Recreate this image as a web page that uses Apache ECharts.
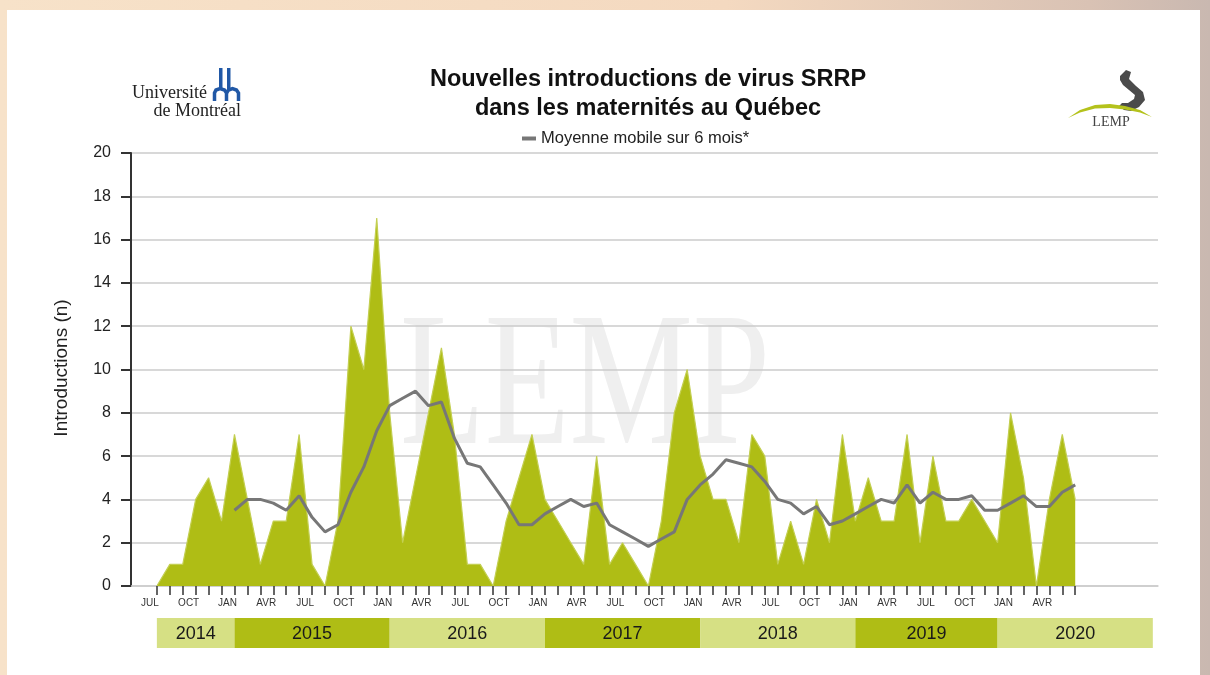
<!DOCTYPE html>
<html>
<head>
<meta charset="utf-8">
<title>Nouvelles introductions de virus SRRP</title>
<script src="https://cdn.jsdelivr.net/npm/echarts@6.0.0/dist/echarts.min.js"></script>
<style>
  html, body { margin: 0; padding: 0; }
  body {
    width: 1210px; height: 675px; overflow: hidden; position: relative;
    background: linear-gradient(90deg, #f7e2c9 0%, #f4d9c0 60%, #d9c2b4 90%, #c9b8b0 100%);
  }
  #panel { position: absolute; left: 7px; top: 10px; width: 1193px; height: 665px; background: #fff; }
  #chart { position: absolute; left: 0; top: 0; width: 1210px; height: 675px; }
</style>
</head>
<body>
<div id="panel"></div>
<div id="chart"></div>
<script>
// introductions mensuelles, de juillet 2014 a juin 2020
const introductions = [
  0, 1, 1, 4, 5, 3,                  // 2014 (jul-dec)
  7, 4, 1, 3, 3, 7, 1, 0, 3, 12, 10, 17, // 2015
  8, 2, 5, 8, 11, 7, 1, 1, 0, 3, 5, 7,   // 2016
  4, 3, 2, 1, 6, 1, 2, 1, 0, 3, 8, 10,   // 2017
  6, 4, 4, 2, 7, 6, 1, 3, 1, 4, 2, 7,    // 2018
  3, 5, 3, 3, 7, 2, 6, 3, 3, 4, 3, 2,    // 2019
  8, 5, 0, 4, 7, 4                   // 2020 (jan-jun)
];

// moyenne mobile sur 6 mois, commence en janvier 2015 (index 6)
const maStart = 6;
const movingAvg = [
  3.5, 4.0, 4.0, 3.83, 3.5, 4.17, 3.17, 2.5, 2.83, 4.33, 5.5, 7.17,
  8.33, 8.67, 9.0, 8.33, 8.5, 6.83, 5.67, 5.5, 4.67, 3.83, 2.83, 2.83,
  3.33, 3.67, 4.0, 3.67, 3.83, 2.83, 2.5, 2.17, 1.83, 2.17, 2.5, 4.0,
  4.67, 5.17, 5.83, 5.67, 5.5, 4.83, 4.0, 3.83, 3.33, 3.67, 2.83, 3.0,
  3.33, 3.67, 4.0, 3.83, 4.67, 3.83, 4.33, 4.0, 4.0, 4.17, 3.5, 3.5,
  3.83, 4.17, 3.67, 3.67, 4.33, 4.67
];

// etiquettes trimestrielles de l'axe x
const tickLabels = [
  'JUL', 'OCT', 'JAN', 'AVR', 'JUL', 'OCT', 'JAN', 'AVR', 'JUL', 'OCT', 'JAN', 'AVR',
  'JUL', 'OCT', 'JAN', 'AVR', 'JUL', 'OCT', 'JAN', 'AVR', 'JUL', 'OCT', 'JAN', 'AVR'
];

// bandeau des annees (debut / fin en mois)
const years = ['2014', '2015', '2016', '2017', '2018', '2019', '2020'];
const yearStart = [0, 6, 18, 30, 42, 54, 65];
const yearEnd = [6, 18, 30, 42, 54, 65, 77];

const GREEN = '#afbd15';
const LIGHT_GREEN = '#d6e084';
const SANS = 'Liberation Sans';

const chart = echarts.init(document.getElementById('chart'));

const areaData = introductions.map((v, i) => [i, v]);
const maData = movingAvg.map((v, i) => [i + maStart, v]);
const monthTicks = introductions.map((v, i) => i);
const labelTicks = tickLabels.map((t, i) => i * 3);
const bandData = years.map((y, i) => [yearStart[i], yearEnd[i]]);

const option = {
  animation: false,
  title: {
    text: 'Nouvelles introductions de virus SRRP\ndans les maternités au Québec',
    left: 643,
    top: 60,
    textAlign: 'center',
    textStyle: { fontFamily: SANS, fontSize: 23.5, fontWeight: 'bold', color: '#111', lineHeight: 29 }
  },
  legend: {
    data: ['Moyenne mobile sur 6 mois*'],
    left: 517,
    top: 125,
    icon: 'rect',
    itemWidth: 14,
    itemHeight: 4,
    itemGap: 7,
    textStyle: { fontFamily: SANS, fontSize: 16.5, color: '#222' }
  },
  grid: [
    { left: 131, top: 153, right: 52, bottom: 89, outerBoundsMode: 'none' },
    { left: 131, top: 618, right: 52, height: 30, outerBoundsMode: 'none' }
  ],
  xAxis: [
    {
      type: 'value', gridIndex: 0, min: -2, max: 77.4,
      splitLine: { show: false },
      axisLine: { show: true, onZero: false, lineStyle: { color: '#cccccc', width: 1.5 } },
      axisTick: { show: true, customValues: monthTicks, length: 9, lineStyle: { color: '#333', width: 1.5 } },
      axisLabel: {
        customValues: labelTicks,
        formatter: v => tickLabels[Math.round(v / 3)] || '',
        margin: 12,
        padding: [0, 14, 0, 0],
        fontFamily: SANS, fontSize: 10, color: '#333'
      }
    },
    {
      type: 'value', gridIndex: 1, min: -2, max: 77.4, show: false
    }
  ],
  yAxis: [
    {
      type: 'value', gridIndex: 0, min: 0, max: 20, interval: 2,
      axisLine: { show: true, onZero: false, lineStyle: { color: '#333', width: 2 } },
      axisTick: { show: true, length: 10, lineStyle: { color: '#333', width: 2 } },
      axisLabel: { margin: 20, fontFamily: SANS, fontSize: 16, color: '#222' },
      splitLine: { lineStyle: { color: '#cbcbcb', width: 1.5 } }
    },
    { type: 'value', gridIndex: 1, min: 0, max: 1, show: false }
  ],
  graphic: [
    // filigrane
    {
      type: 'text', z: -10, x: 400, y: 393, scaleX: 0.73,
      style: { text: 'LEMP', font: '190px "Liberation Serif"', fill: '#efefef', align: 'left', verticalAlign: 'middle' }
    },
    // titre de l'axe y
    {
      type: 'text', x: 62, y: 368, rotation: Math.PI / 2,
      style: { text: 'Introductions (n)', font: '19px "Liberation Sans"', fill: '#222', align: 'center', verticalAlign: 'middle' }
    },
    // logo Universite de Montreal
    {
      type: 'text', x: 207, y: 93,
      style: { text: 'Université', font: '18px "Liberation Serif"', fill: '#222', align: 'right', verticalAlign: 'middle' }
    },
    {
      type: 'text', x: 241, y: 111,
      style: { text: 'de Montréal', font: '18px "Liberation Serif"', fill: '#222', align: 'right', verticalAlign: 'middle' }
    },
    { type: 'rect', shape: { x: 219, y: 68, width: 3.5, height: 21 }, style: { fill: '#2158a6' } },
    { type: 'rect', shape: { x: 227, y: 68, width: 3.5, height: 21 }, style: { fill: '#2158a6' } },
    {
      type: 'polyline',
      shape: { points: [[214.5, 101], [214.5, 93], [216, 90], [220, 88.5], [224.5, 90], [226.5, 93], [226.5, 101]] },
      style: { stroke: '#2158a6', lineWidth: 3.5, fill: null }
    },
    {
      type: 'polyline',
      shape: { points: [[226.5, 93], [228.5, 90], [232.5, 88.5], [236.5, 90], [238.5, 93], [238.5, 101]] },
      style: { stroke: '#2158a6', lineWidth: 3.5, fill: null }
    },
    // logo LEMP
    {
      type: 'polygon',
      shape: { points: [[1120, 76], [1126, 70], [1131, 72], [1129, 79], [1136, 86], [1143, 92], [1145, 100], [1139, 107], [1131, 111], [1124, 110], [1119, 106], [1122, 103], [1128, 103], [1134, 99], [1135, 95], [1129, 90], [1123, 85], [1120, 80]] },
      style: { fill: '#4b4b4b' }
    },
    {
      type: 'polygon',
      shape: { points: [[1068, 118], [1080, 110], [1095, 105], [1110, 104], [1125, 106], [1140, 110], [1152, 117], [1140, 112.5], [1125, 109.5], [1110, 108], [1095, 108.5], [1080, 112.5]] },
      style: { fill: '#b4c21c' }
    },
    {
      type: 'text', x: 1111, y: 122,
      style: { text: 'LEMP', font: '14px "Liberation Serif"', fill: '#444', align: 'center', verticalAlign: 'middle' }
    }
  ],
  series: [
    {
      name: 'Introductions',
      type: 'line',
      xAxisIndex: 0, yAxisIndex: 0,
      data: areaData,
      symbol: 'none',
      z: 2,
      lineStyle: { color: '#c3cf52', width: 1.2 },
      areaStyle: { color: GREEN, opacity: 1 }
    },
    {
      name: 'Moyenne mobile sur 6 mois*',
      type: 'line',
      xAxisIndex: 0, yAxisIndex: 0,
      data: maData,
      symbol: 'none',
      z: 3,
      itemStyle: { color: '#777777' },
      lineStyle: { color: '#777777', width: 3 }
    },
    {
      name: 'Années',
      type: 'custom',
      xAxisIndex: 1, yAxisIndex: 1,
      data: bandData,
      renderItem: function (params, api) {
        const s = api.coord([api.value(0), 1]);
        const e = api.coord([api.value(1), 0]);
        const idx = params.dataIndex;
        return {
          type: 'group',
          children: [
            {
              type: 'rect',
              shape: { x: s[0], y: s[1], width: e[0] - s[0], height: e[1] - s[1] },
              style: { fill: idx % 2 === 0 ? LIGHT_GREEN : GREEN }
            },
            {
              type: 'text',
              style: {
                text: years[idx], x: (s[0] + e[0]) / 2, y: (s[1] + e[1]) / 2 + 1,
                align: 'center', verticalAlign: 'middle',
                font: '18px "Liberation Sans"', fill: '#1a1a1a'
              }
            }
          ]
        };
      }
    }
  ]
};

option && chart.setOption(option);
</script>
</body>
</html>
